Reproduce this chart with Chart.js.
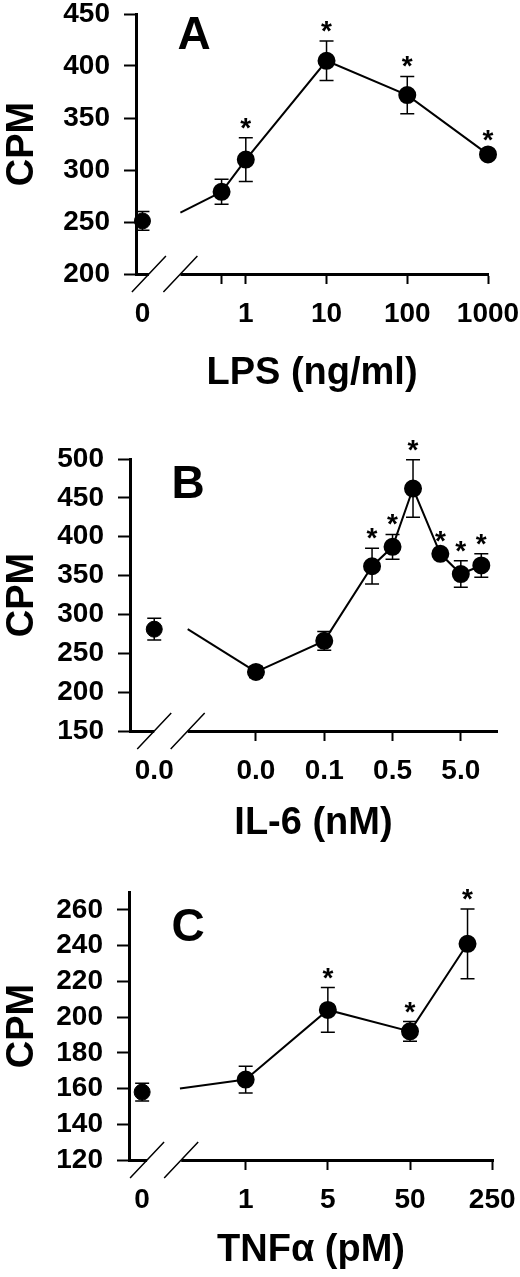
<!DOCTYPE html>
<html>
<head>
<meta charset="utf-8">
<title>CPM dose responses</title>
<script src="https://cdn.jsdelivr.net/npm/chart.js@4.4.1/dist/chart.umd.min.js"></script>
<style>
  body { margin: 0; background: #fff; }
  #wrap { position: relative; width: 520px; height: 1277px; }
  canvas { position: absolute; left: 0; }
</style>
</head>
<body>
<div id="wrap">
  <canvas id="chartA" width="520" height="410" style="top:0"></canvas>
  <canvas id="chartB" width="520" height="450" style="top:410px"></canvas>
  <canvas id="chartC" width="520" height="417" style="top:860px"></canvas>
</div>
<script>
// A - LPS. x positions are log10(dose), control sits left of the axis break
var lpsTickPos = [-1.28, -0.30, 0, 1, 2, 3];
var lpsTickLabels = ["0", "", "1", "10", "100", "1000"];
var lpsX = [-0.30, 0, 1, 2, 3];
var lpsCPM = [279, 310, 405, 372, 315];
var lpsErr = [12, 21, 19, 18, 4];
var lpsStar = [false, true, true, true, true];
var lpsCtrl = [-1.28, 251, 9];   // x, CPM, err
var lpsLead = [-0.81, 259];      // where the line starts after the break

// B - IL-6
var il6TickPos = [-1.49, 0, 1, 2, 3];
var il6TickLabels = ["0.0", "0.0", "0.1", "0.5", "5.0"];
var il6X = [0, 1, 1.7, 2, 2.3, 2.7, 3, 3.3];
var il6CPM = [226, 266, 362, 387, 462, 378, 352, 363];
var il6Err = [7, 12, 23, 16, 37, 4, 17, 15];
var il6Star = [false, false, true, true, true, true, true, true];
var il6Ctrl = [-1.49, 281, 14];
var il6Lead = [-1.0, 281];

// C - TNFa
var tnfTickPos = [-1.26, 0, 1, 2, 3];
var tnfTickLabels = ["0", "1", "5", "50", "250"];
var tnfX = [0, 1, 2, 2.7];
var tnfCPM = [165, 204, 192, 241];
var tnfErr = [7.5, 12.5, 5.5, 19.5];
var tnfStar = [false, true, true, true];
var tnfCtrl = [-1.26, 158, 5];
var tnfLead = [-0.8, 160];

var FONT = "'Liberation Sans', Arial, Helvetica, sans-serif";

var panels = [
  { id: "chartA", letter: "A", title: "LPS (ng/ml)",
    yMin: 200, yMax: 450, yStep: 50, xMin: -1.36, xMax: 3,
    tickPos: lpsTickPos, tickLabels: lpsTickLabels,
    x: lpsX, y: lpsCPM, err: lpsErr, star: lpsStar, ctrl: lpsCtrl, lead: lpsLead,
    breakAt: [-1.20, -0.81],
    padTop: 14, padRight: 32, yWidth: 136, xHeight: 136, titlePad: 14, letterAt: [58, 22] },
  { id: "chartB", letter: "B", title: "IL-6 (nM)",
    yMin: 150, yMax: 500, yStep: 50, xMin: -1.845, xMax: 3.53,
    tickPos: il6TickPos, tickLabels: il6TickLabels,
    x: il6X, y: il6CPM, err: il6Err, star: il6Star, ctrl: il6Ctrl, lead: il6Lead,
    breakAt: [-1.49, -1.0],
    padTop: 49, padRight: 23, yWidth: 130, xHeight: 129, titlePad: 14, letterAt: [58, 26] },
  { id: "chartC", letter: "C", title: "TNF\u03b1 (pM)",
    yMin: 120, yMax: 270, yStep: 20, xMin: -1.42, xMax: 3.01,
    tickPos: tnfTickPos, tickLabels: tnfTickLabels,
    x: tnfX, y: tnfCPM, err: tnfErr, star: tnfStar, ctrl: tnfCtrl, lead: tnfLead,
    breakAt: [-1.20, -0.785],
    padTop: 32, padRight: 27, yWidth: 129, xHeight: 117, titlePad: 4, letterAt: [59, 36] }
];

// error bars, asterisks, panel letter and the axis break
function marksPlugin(p) {
  return {
    id: "marks",
    afterDraw: function (chart) {
      var ctx = chart.ctx, xs = chart.scales.x, ys = chart.scales.y, area = chart.chartArea;
      ctx.save();
      ctx.strokeStyle = "#000";
      ctx.fillStyle = "#000";

      // error bars
      var pts = p.x.map(function (v, i) { return [v, p.y[i], p.err[i]]; });
      pts.push(p.ctrl);
      ctx.lineWidth = 1.5;
      pts.forEach(function (d) {
        var px = xs.getPixelForValue(d[0]);
        var top = ys.getPixelForValue(d[1] + d[2]);
        var bot = ys.getPixelForValue(d[1] - d[2]);
        ctx.beginPath();
        ctx.moveTo(px, top); ctx.lineTo(px, bot);
        ctx.moveTo(px - 7, top); ctx.lineTo(px + 7, top);
        ctx.moveTo(px - 7, bot); ctx.lineTo(px + 7, bot);
        ctx.stroke();
      });

      // asterisks
      ctx.font = "bold 28px " + FONT;
      ctx.textAlign = "center";
      ctx.textBaseline = "alphabetic";
      p.x.forEach(function (v, i) {
        if (!p.star[i]) return;
        var top = ys.getPixelForValue(p.y[i] + p.err[i]);
        ctx.fillText("*", xs.getPixelForValue(v), top - 1);
      });

      // panel letter
      ctx.font = "bold 46px " + FONT;
      ctx.textBaseline = "middle";
      ctx.fillText(p.letter, area.left + p.letterAt[0], area.top + p.letterAt[1]);

      // axis break
      var yAx = area.bottom;
      var b1 = xs.getPixelForValue(p.breakAt[0]);
      var b2 = xs.getPixelForValue(p.breakAt[1]);
      ctx.fillStyle = "#fff";
      ctx.fillRect(b1, yAx - 3, b2 - b1, 6);
      ctx.lineWidth = 1.5;
      ctx.beginPath();
      [b1, b2].forEach(function (b) {
        ctx.moveTo(b - 17, yAx + 18);
        ctx.lineTo(b + 17, yAx - 18);
      });
      ctx.stroke();
      ctx.restore();
    }
  };
}

function makePanel(p) {
  var line = p.x.map(function (v, i) { return { x: v, y: p.y[i] }; });
  new Chart(p.id, {
    type: "scatter",
    data: {
      datasets: [
        { data: [{ x: p.ctrl[0], y: p.ctrl[1] }], pointRadius: 8, clip: false,
          backgroundColor: "#000", borderColor: "#000" },
        { data: [{ x: p.lead[0], y: p.lead[1] }, line[0]], showLine: true, clip: false,
          pointRadius: 0, borderColor: "#000", borderWidth: 2 },
        { data: line, showLine: true, pointRadius: 8, borderWidth: 2, clip: false,
          backgroundColor: "#000", borderColor: "#000" }
      ]
    },
    options: {
      responsive: false,
      animation: false,
      layout: { padding: { top: p.padTop, right: p.padRight, left: 0, bottom: 0 } },
      plugins: { legend: { display: false }, tooltip: { enabled: false } },
      scales: {
        x: {
          type: "linear", min: p.xMin, max: p.xMax,
          afterBuildTicks: function (axis) {
            axis.ticks = p.tickPos.map(function (v) { return { value: v }; });
          },
          afterFit: function (axis) {
            axis.height = p.xHeight;
            axis.paddingLeft = 0;
            axis.paddingRight = 0;
          },
          ticks: {
            autoSkip: false, maxRotation: 0, padding: 13, color: "#000",
            font: { family: FONT, size: 28, weight: "bold" },
            callback: function (v, i) { return p.tickLabels[i]; }
          },
          grid: {
            drawOnChartArea: false, tickLength: 10, tickWidth: 2,
            tickColor: function (c) { return c.index === 0 ? "rgba(0,0,0,0)" : "#000"; }
          },
          border: { display: true, color: "#000", width: 3 },
          title: {
            display: true, text: p.title, color: "#000",
            font: { family: FONT, size: 38, weight: "bold" },
            padding: { top: 0, bottom: p.titlePad }
          }
        },
        y: {
          min: p.yMin, max: p.yMax,
          afterFit: function (axis) {
            axis.width = p.yWidth;
            axis.paddingTop = 0;
            axis.paddingBottom = 0;
          },
          ticks: {
            stepSize: p.yStep, includeBounds: false, padding: 14, color: "#000",
            font: { family: FONT, size: 28, weight: "bold" }
          },
          grid: { drawOnChartArea: false, tickLength: 12, tickWidth: 2, tickColor: "#000" },
          border: { display: true, color: "#000", width: 3 },
          title: {
            display: true, text: "CPM", color: "#000",
            font: { family: FONT, size: 38, weight: "bold" },
            padding: 0
          }
        }
      }
    },
    plugins: [marksPlugin(p)]
  });
}

panels.forEach(makePanel);
</script>
</body>
</html>
